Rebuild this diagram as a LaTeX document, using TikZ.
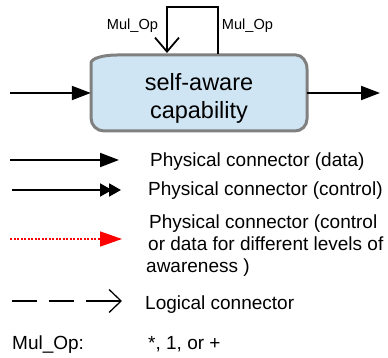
\documentclass[tikz,border=0pt]{standalone}
\usepackage{fontspec}
\setmainfont{Liberation Sans}
\usetikzlibrary{arrows.meta}
\definecolor{boxfill}{RGB}{207,229,243}
\definecolor{boxline}{RGB}{128,128,128}
\definecolor{awred}{RGB}{255,0,0}
\begin{document}
\begin{tikzpicture}[x=1pt,y=1pt,
  conn/.style={line width=2pt, draw=black},
  datatip/.style={-{Triangle[length=19pt,width=14pt]}},
  ctrltip/.style={-{Triangle[length=12pt,width=13pt,sep=-3pt]Triangle[length=12pt,width=13pt]}},
  leveltip/.style={-{Triangle[length=22pt,width=15pt,color=awred]}},
  logictip/.style={-{Straight Barb[length=12pt,width=23pt,line width=1.3pt]}},
  looptip/.style={-{Straight Barb[length=14pt,width=24pt,line width=1.8pt]}},
  legtext/.style={font=\fontsize{19}{22}\selectfont, anchor=base west, inner sep=0pt},
  oplabel/.style={font=\fontsize{14.6}{17}\selectfont, anchor=base, inner sep=0pt},
  capbox/.style={fill=boxfill, draw=boxline, line width=3pt},
]
\useasboundingbox (0,0) rectangle (388,358);

% main block
\path[capbox] (91,295) arc[start angle=180,end angle=90,x radius=26,y radius=8]
  -- (296,303) arc[start angle=90,end angle=0,x radius=11,y radius=14]
  -- (307,239) arc[start angle=0,end angle=-90,radius=12]
  -- (104,227) arc[start angle=270,end angle=180,radius=13]
  -- cycle;
\node[minimum width=216pt, minimum height=76pt, inner sep=0pt] (box) at (199,265) {};
\node[font=\fontsize{23.5}{28}\selectfont, align=center, inner sep=0pt] (captext) at (199,259.5) {self-aware\\capability};

% input / output
\coordinate (inL) at (10,265);
\coordinate (outR) at (380,265);
\draw[conn, datatip] (inL) -- (box.west);
\draw[conn, datatip] (box.east) -- (outR);

% self loop
\coordinate (loopR) at (218,304);
\coordinate (loopTR) at (218,351);
\coordinate (loopTL) at (167,351);
\coordinate (loopL) at (167,305);
\draw[line width=1.8pt, looptip] (loopR) -- (loopTR) -- (loopTL) -- (loopL);
\node[oplabel] (opL) at (132.5,328) {Mul\_Op};
\node[oplabel] (opR) at (247.5,328) {Mul\_Op};

% legend
\coordinate (d1) at (10,198);  \coordinate (d2) at (119,198);
\draw[conn, datatip] (d1) -- (d2);
\node[legtext] (tdata) at (150,191) {Physical connector (data)};

\coordinate (c1) at (12,168);  \coordinate (c2) at (121,168);
\draw[conn, ctrltip] (c1) -- (c2);
\node[legtext] (tctrl) at (148,162) {Physical connector (control)};

\coordinate (r1) at (10,119);  \coordinate (r2) at (122,119);
\draw[awred, line width=1.5pt, dash pattern=on 2pt off 1.5pt, leveltip] (r1) -- (r2);
\node[legtext] (tlev1) at (149,129) {Physical connector (control};
\node[legtext] (tlev2) at (148,107) {or data for different levels of};
\node[legtext] (tlev3) at (146,85) {awareness )};

\coordinate (l1) at (12,57);  \coordinate (l2) at (122,57);
\draw[line width=1.3pt, dash pattern=on 25pt off 12pt on 25pt off 12pt on 40pt off 1pt, logictip] (l1) -- (l2);
\node[legtext] (tlog) at (145,48) {Logical connector};

\node[legtext] (tmul) at (12,8) {Mul\_Op:};
\node[legtext] (tmulv) at (148,8) {*, 1, or +};
\end{tikzpicture}
\end{document}
